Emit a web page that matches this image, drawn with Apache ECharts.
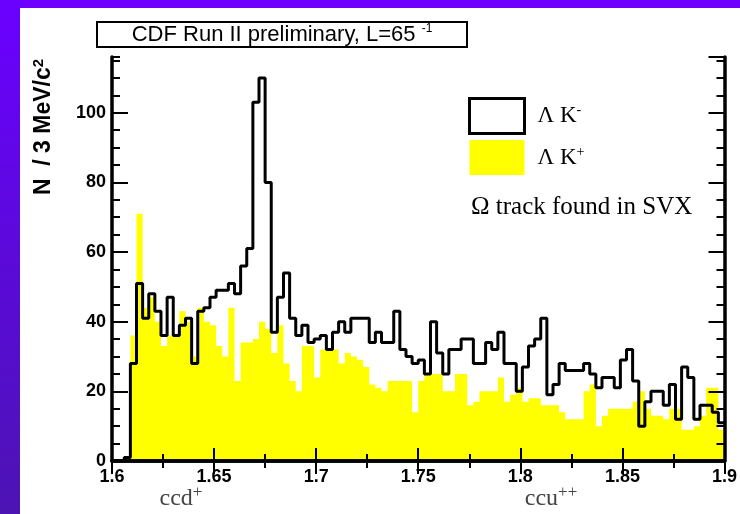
<!DOCTYPE html>
<html>
<head>
<meta charset="utf-8">
<script src="https://cdn.jsdelivr.net/npm/echarts@6/dist/echarts.min.js"></script>
<style>
html, body { margin: 0; padding: 0; background: #ffffff; }
#chart { width: 740px; height: 514px; }
</style>
</head>
<body>
<div id="chart"></div>
<script>
// Invariant mass range of the Lambda-K candidates, 3 MeV/c^2 bins
const massMin = 1.6;
const massMax = 1.9;
const binWidth = 0.003;

// Entries per bin, Lambda K-
const countsLambdaKminus = [
  0, 0, 1, 28, 51, 41, 48, 43, 36, 47,
  36, 39, 41, 28, 43, 44, 47, 49, 49, 51,
  48, 56, 61, 103, 110, 80, 37, 47, 54, 41,
  36, 39, 34, 35, 36, 32, 37, 40, 37, 41,
  41, 41, 34, 37, 34, 34, 43, 32, 30, 28,
  29, 25, 40, 31, 25, 32, 32, 35, 35, 28,
  28, 34, 32, 37, 28, 28, 20, 27, 33, 35,
  41, 19, 22, 28, 26, 26, 26, 28, 25, 21,
  24, 24, 21, 29, 32, 23, 10, 17, 20, 20,
  16, 22, 12, 27, 24, 12, 16, 16, 14, 11
];

// Entries per bin, Lambda K+
const countsLambdaKplus = [
  0, 0, 0, 36, 71, 44, 47, 40, 33, 36,
  36, 43, 40, 30, 44, 40, 39, 33, 30, 44,
  23, 34, 34, 35, 40, 38, 31, 39, 28, 23,
  20, 33, 33, 24, 32, 32, 32, 28, 31, 30,
  29, 27, 22, 21, 20, 23, 23, 23, 23, 14,
  23, 25, 25, 25, 20, 20, 25, 25, 16, 17,
  20, 20, 20, 24, 17, 19, 21, 17, 18, 18,
  16, 16, 16, 14, 12, 12, 12, 20, 22, 10,
  13, 15, 15, 15, 15, 17, 20, 15, 13, 13,
  12, 15, 15, 9, 9, 10, 13, 21, 21, 9
];

const xTickLabels = ['1.6', '1.65', '1.7', '1.75', '1.8', '1.85', '1.9'];
const yTickLabels = ['0', '20', '40', '60', '80', '100'];
const yMax = 116;

// Histogram outline: one point at each lower bin edge, plus the last upper edge
function histogramSteps(counts) {
  const pts = counts.map((v, i) => [massMin + i * binWidth, v]);
  pts.push([massMax, counts[counts.length - 1]]);
  return pts;
}

const chart = echarts.init(document.getElementById('chart'), null, { renderer: 'canvas' });

const frameLine = { show: true, lineStyle: { color: '#000', width: 3.5 } };
const labelFont = { fontFamily: 'Liberation Sans, Arial, sans-serif', fontWeight: 'bold', fontSize: 18, color: '#000' };

function xAxisDef(pos, showLabels) {
  return {
    type: 'value', position: pos, min: massMin, max: massMax, interval: 0.05,
    z: 10,
    axisLine: frameLine,
    axisTick: { show: true, inside: true, length: 13, lineStyle: { color: '#000', width: 2 } },
    minorTick: { show: true, splitNumber: 2, length: 7, lineStyle: { color: '#000', width: 2 } },
    splitLine: { show: false },
    axisLabel: Object.assign({
      show: showLabels, margin: 7,
      formatter: v => xTickLabels[Math.round((v - massMin) / 0.05)] || ''
    }, labelFont)
  };
}

function yAxisDef(pos, interval, tickLen, showLabels, showLine) {
  return {
    type: 'value', position: pos, min: 0, max: yMax, interval: interval,
    z: 10,
    axisLine: showLine ? frameLine : { show: false },
    axisTick: { show: true, inside: true, length: tickLen, lineStyle: { color: '#000', width: 2 } },
    splitLine: { show: false },
    axisLabel: Object.assign({
      show: showLabels, margin: 6, showMaxLabel: false,
      formatter: v => (v % 20 === 0 ? (yTickLabels[v / 20] || '') : '')
    }, labelFont)
  };
}

const serif = 'Liberation Serif, Times New Roman, serif';
const supRich = {
  b: { fontFamily: serif, fontSize: 23, color: '#000' },
  s: { fontFamily: serif, fontSize: 14, color: '#000', verticalAlign: 'top', padding: [0, 0, 11, 0] }
};

const option = {
  backgroundColor: '#ffffff',
  animation: false,
  grid: { left: 112, right: 14, top: 57, bottom: 53, containLabel: false },
  xAxis: [xAxisDef('bottom', true), xAxisDef('top', false)],
  yAxis: [
    yAxisDef('left', 20, 16, true, true),
    yAxisDef('left', 5, 8, false, false),
    yAxisDef('right', 20, 16, false, true),
    yAxisDef('right', 5, 8, false, false)
  ],
  legend: {
    orient: 'vertical', left: 468, top: 97, itemGap: 5, padding: 0,
    itemWidth: 55, itemHeight: 35,
    data: [
      { name: 'ΛK-', icon: 'rect', itemStyle: { color: '#ffffff', borderColor: '#000', borderWidth: 3 } },
      { name: 'ΛK+', icon: 'rect', itemStyle: { color: '#ffff00', borderWidth: 0 } }
    ],
    formatter: name => '{b|Λ K}{s|' + (name.endsWith('-') ? '-' : '+') + '}',
    textStyle: { rich: supRich, padding: [0, 0, 0, 8] },
    selectedMode: false
  },
  series: [
    {
      name: 'ΛK+', type: 'line', step: 'end', xAxisIndex: 0, yAxisIndex: 0,
      data: histogramSteps(countsLambdaKplus),
      showSymbol: false, symbol: 'none',
      lineStyle: { width: 0, color: '#ffff00' },
      itemStyle: { color: '#ffff00' },
      areaStyle: { color: '#ffff00', opacity: 1 },
      z: 2
    },
    {
      name: 'ΛK-', type: 'line', step: 'end', xAxisIndex: 0, yAxisIndex: 0,
      data: histogramSteps(countsLambdaKminus),
      showSymbol: false, symbol: 'none',
      lineStyle: { width: 3, color: '#000' },
      itemStyle: { color: '#000' },
      z: 3
    }
  ],
  graphic: [
    // violet page border strips
    { type: 'rect', shape: { x: 0, y: 0, width: 740, height: 8 }, style: { fill: '#6e00ff' }, z: -1 },
    {
      type: 'rect', shape: { x: 0, y: 0, width: 20, height: 514 }, z: -1,
      style: { fill: new echarts.graphic.LinearGradient(0, 0, 0, 1, [
        { offset: 0, color: '#6a00ff' }, { offset: 1, color: '#4c14b4' }
      ]) }
    },
    // run label box
    { type: 'rect', shape: { x: 97, y: 22, width: 370, height: 25 }, style: { fill: '#fff', stroke: '#000', lineWidth: 2 } },
    {
      type: 'text', x: 282, y: 35,
      style: {
        text: '{t|CDF Run II preliminary, L=65 }{u|-1}',
        align: 'center', verticalAlign: 'middle',
        rich: {
          t: { fontFamily: 'Liberation Sans, Arial, sans-serif', fontSize: 22, fill: '#000' },
          u: { fontFamily: 'Liberation Sans, Arial, sans-serif', fontSize: 12, fill: '#000', verticalAlign: 'top', padding: [0, 0, 12, 0] }
        }
      }
    },
    // vertical axis title
    {
      type: 'text', x: 44, y: 127, rotation: Math.PI / 2,
      style: {
        text: '{t|N  / 3 MeV/c}{u|2}',
        align: 'center', verticalAlign: 'middle',
        rich: {
          t: { fontFamily: 'Liberation Sans, Arial, sans-serif', fontWeight: 'bold', fontSize: 23, fill: '#000' },
          u: { fontFamily: 'Liberation Sans, Arial, sans-serif', fontWeight: 'bold', fontSize: 15, fill: '#000', verticalAlign: 'top', padding: [0, 0, 11, 0] }
        }
      }
    },
    {
      type: 'text', x: 471, y: 207,
      style: { text: 'Ω track found in SVX', fontFamily: serif, fontSize: 25, fill: '#000', verticalAlign: 'middle' }
    },
    // charmed baryon states marked under the mass axis
    {
      type: 'text', x: 181, y: 499,
      style: {
        text: '{b|ccd}{s|+}', align: 'center', verticalAlign: 'middle',
        rich: {
          b: { fontFamily: serif, fontSize: 24, fill: '#444' },
          s: { fontFamily: serif, fontSize: 17, fill: '#444', verticalAlign: 'top', padding: [0, 0, 12, 0] }
        }
      }
    },
    {
      type: 'text', x: 551, y: 499,
      style: {
        text: '{b|ccu}{s|++}', align: 'center', verticalAlign: 'middle',
        rich: {
          b: { fontFamily: serif, fontSize: 24, fill: '#444' },
          s: { fontFamily: serif, fontSize: 17, fill: '#444', verticalAlign: 'top', padding: [0, 0, 12, 0] }
        }
      }
    }
  ]
};

chart.setOption(option);
</script>
</body>
</html>
